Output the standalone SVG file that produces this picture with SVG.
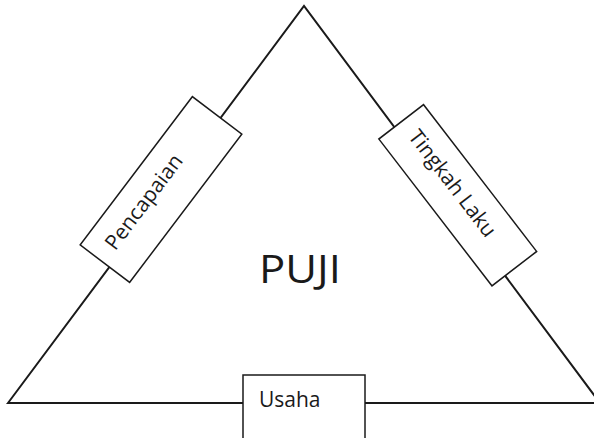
<svg xmlns="http://www.w3.org/2000/svg" width="594" height="438" viewBox="0 0 594 438">
<style>
.edge{fill:none;stroke:#1a1a1a;stroke-width:2;stroke-linejoin:miter}
.box{fill:#ffffff;stroke:#1a1a1a;stroke-width:1.5}
.lbl{font-family:"Open Sans","Noto Sans","Liberation Sans",sans-serif;font-size:21px;fill:#1a1a1a}
.title{font-family:"Open Sans","Noto Sans","Liberation Sans",sans-serif;font-size:39px;fill:#1a1a1a}
</style>
<rect width="594" height="438" fill="#ffffff"/>
<g id="connectors">
<polygon class="edge" points="8,403 304,6 600,403"/>
</g>
<g id="puji">
<text class="title" x="259" y="283" textLength="82" lengthAdjust="spacingAndGlyphs">PUJI</text>
</g>
<g id="pencapaian" transform="translate(161,189.5) rotate(-52.9)">
<rect class="box" x="-93" y="-31" width="186" height="62"/>
<text class="lbl" x="-77" y="1">Pencapaian</text>
</g>
<g id="tingkah-laku" transform="translate(457.75,195.25) rotate(52.4)">
<rect class="box" x="-92.7" y="-28.2" width="185.4" height="56.4"/>
<text class="lbl" x="-77" y="4">Tingkah Laku</text>
</g>
<g id="usaha">
<rect class="box" x="243" y="375" width="122" height="80"/>
<text class="lbl" x="259" y="407" font-size="20">Usaha</text>
</g>
</svg>
